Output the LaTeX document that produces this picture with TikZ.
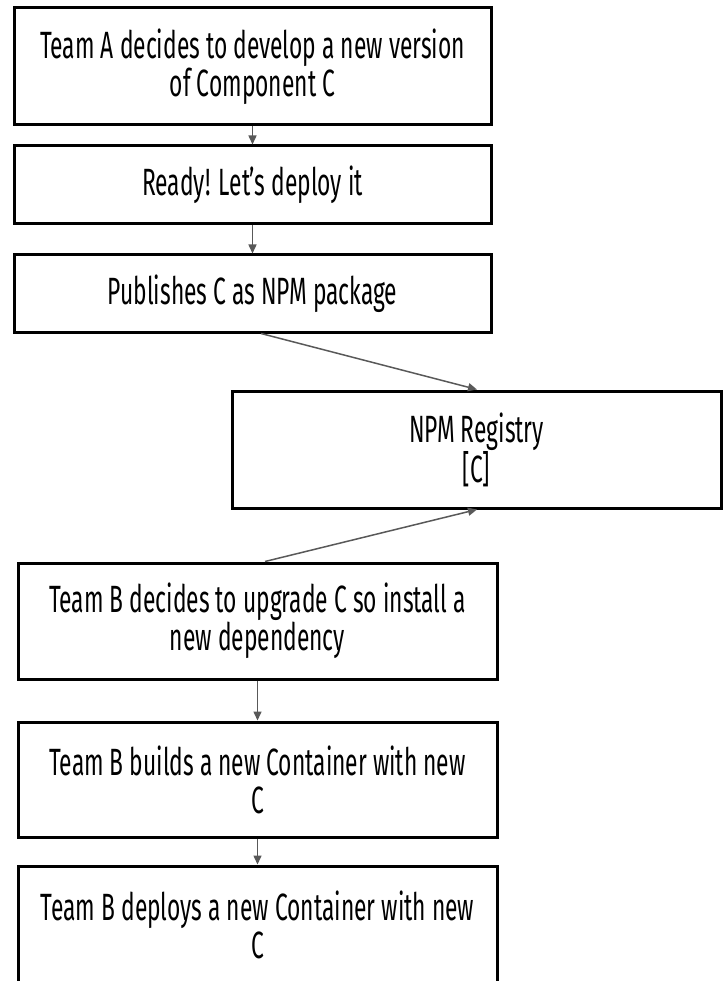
\documentclass[tikz,border=0pt]{standalone}
\usepackage{fontspec}
\setmainfont{Fira Sans}[FakeStretch=0.6]
\usetikzlibrary{arrows.meta,calc}
\definecolor{arrowgray}{HTML}{595959}
\begin{document}
\begin{tikzpicture}[x=1pt,y=-1pt,
  box/.style={draw=black,line width=3pt,fill=white,align=center,inner sep=0pt,
    font=\fontsize{38}{38}\selectfont},
  conn/.style={draw=arrowgray,line width=1.5pt,-{Triangle[length=9pt,width=8pt]}}]
\useasboundingbox (0,0) rectangle (723,981);
\clip (0,0) rectangle (723,981);
\node[box,minimum width=477pt,minimum height=117pt] (b1) at (252.5,66.5) {Team A decides to develop a new version\\of Component C};
\node[box,minimum width=477pt,minimum height=78pt] (b2) at (252.5,185) {Ready! Let's deploy it};
\node[box,minimum width=477pt,minimum height=77pt] (b3) at (252.5,293.5) {Publishes C as NPM package};
\node[box,minimum width=489pt,minimum height=117pt] (npm) at (476.5,449.5) {NPM Registry\\{[C]}};
\node[box,minimum width=479pt,minimum height=116pt] (b5) at (257.5,621) {Team B decides to upgrade C so install a\\new dependency};
\node[box,minimum width=479pt,minimum height=115pt] (b6) at (257.5,779.5) {Team B builds a new Container with new\\C};
\node[box,minimum width=479pt,minimum height=117pt] (b7) at (257.5,924.5) {Team B deploys a new Container with new\\C};
\draw[conn] (b1.south) -- (b2.north);
\draw[conn] (b2.south) -- (b3.north);
\draw[conn] ([xshift=8.5pt]b3.south) -- ([xshift=0.5pt]npm.north);
\draw[conn] ([xshift=7.5pt]b5.north) -- ([xshift=0.5pt]npm.south);
\draw[conn] (b5.south) -- (b6.north);
\draw[conn] (b6.south) -- (b7.north);
\end{tikzpicture}
\end{document}
